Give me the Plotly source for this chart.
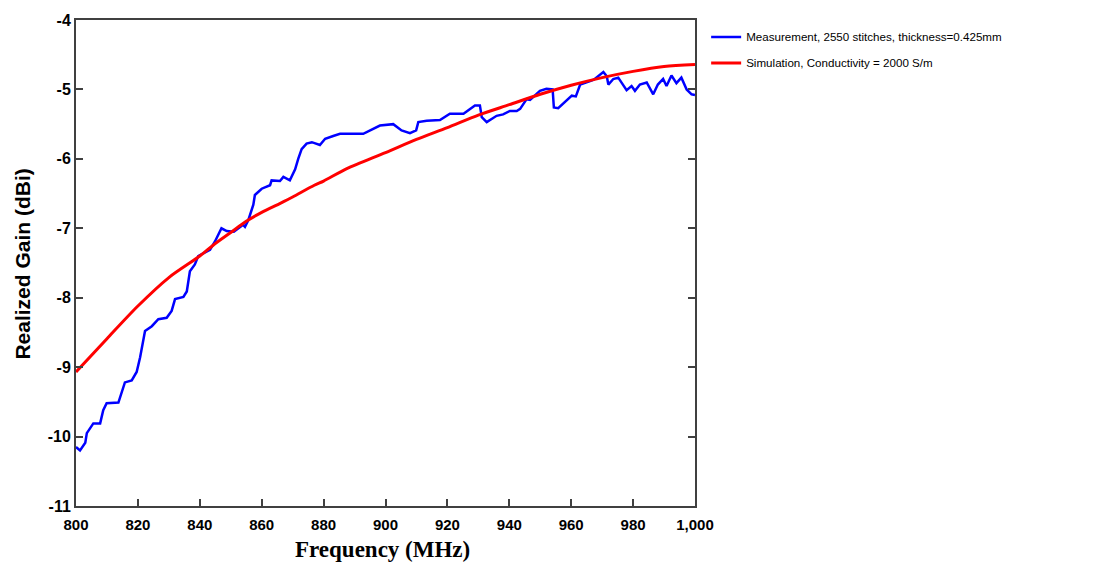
import plotly.graph_objects as go

# Measured realized gain (blue trace)
meas_freq = [800.0, 801.3, 803.0, 803.5, 805.6, 807.8, 808.8, 809.9, 813.7, 814.8,
             815.8, 818.0, 819.6, 820.7, 822.3, 824.5, 826.6, 829.3, 830.9, 832.0,
             834.7, 835.8, 836.8, 838.4, 839.5, 841.1, 843.3, 844.9, 847.0, 848.7,
             851.0, 854.0, 854.6, 855.7, 857.3, 857.8, 860.0, 862.7, 863.2, 865.9,
             867.0, 869.1, 870.8, 871.8, 872.9, 874.5, 876.2, 878.8, 880.5, 883.1,
             885.3, 892.8, 896.0, 898.2, 902.5, 905.2, 907.9, 909.9, 910.6, 913.3,
             917.6, 920.8, 925.2, 928.9, 930.5, 931.1, 932.7, 935.9, 938.0, 940.2,
             942.4, 943.5, 945.6, 946.7, 949.9, 952.0, 954.0, 954.4, 955.8, 960.2,
             961.5, 962.9, 966.1, 967.3, 970.4, 971.5, 972.0, 973.6, 975.2, 977.9,
             979.5, 980.6, 982.2, 984.4, 986.5, 988.0, 989.7, 990.8, 992.4, 994.0,
             995.6, 997.3, 998.9, 1000.0]
meas_gain = [-10.15, -10.20, -10.09, -9.95, -9.81, -9.81, -9.62, -9.52, -9.51, -9.34,
             -9.22, -9.19, -9.07, -8.86, -8.48, -8.41, -8.31, -8.29, -8.19, -8.02,
             -7.99, -7.91, -7.62, -7.52, -7.40, -7.36, -7.31, -7.19, -7.00, -7.04,
             -7.05, -6.95, -6.98, -6.88, -6.66, -6.52, -6.43, -6.38, -6.31, -6.32,
             -6.26, -6.31, -6.15, -6.00, -5.86, -5.78, -5.76, -5.80, -5.71, -5.67,
             -5.64, -5.64, -5.57, -5.52, -5.50, -5.59, -5.63, -5.59, -5.47, -5.45,
             -5.44, -5.35, -5.35, -5.23, -5.23, -5.40, -5.47, -5.38, -5.36, -5.31,
             -5.31, -5.28, -5.14, -5.15, -5.02, -4.99, -5.00, -5.26, -5.27, -5.09,
             -5.10, -4.93, -4.88, -4.86, -4.75, -4.81, -4.93, -4.85, -4.83, -5.01,
             -4.95, -5.02, -4.93, -4.90, -5.07, -4.93, -4.85, -4.95, -4.80, -4.91,
             -4.83, -5.00, -5.07, -5.08]

# Simulated realized gain (red trace)
sim_freq = [800, 810, 820, 830, 840, 844.4, 850, 855, 860, 866, 870, 877, 880,
            887.5, 900, 910, 920, 930, 940, 950, 960, 970, 980, 990, 1000]
sim_gain = [-9.07, -8.59, -8.12, -7.71, -7.40, -7.24, -7.06, -6.90, -6.77,
            -6.64, -6.55, -6.38, -6.32, -6.14, -5.91, -5.72, -5.55, -5.37, -5.22,
            -5.07, -4.94, -4.83, -4.74, -4.67, -4.64]

x_ticks = [800, 820, 840, 860, 880, 900, 920, 940, 960, 980, 1000]
x_tick_text = ["800", "820", "840", "860", "880", "900", "920", "940", "960", "980", "1,000"]
y_ticks = [-11, -10, -9, -8, -7, -6, -5, -4]
y_tick_text = ["-11", "-10", "-9", "-8", "-7", "-6", "-5", "-4"]

fig = go.Figure()
fig.add_trace(go.Scatter(
    x=meas_freq, y=meas_gain, mode="lines",
    name="Measurement, 2550 stitches, thickness=0.425mm",
    line=dict(color="#0000FF", width=2.5), legendgroup="m"))
fig.add_trace(go.Scatter(
    x=sim_freq, y=sim_gain, mode="lines",
    name="Simulation, Conductivity = 2000 S/m",
    line=dict(color="#FF0000", width=3, shape="spline", smoothing=0.8), legendgroup="s"))

axis_common = dict(showgrid=False, zeroline=False, showline=True, linecolor="#404040",
                   linewidth=2, ticks="inside", ticklen=7, tickwidth=1.5,
                   tickcolor="#404040")

fig.update_xaxes(range=[800, 1000], tickvals=x_ticks, ticktext=x_tick_text, mirror=True,
                 tickfont=dict(family="Liberation Sans, Arial", size=15,
                               color="black", weight="bold"),
                 ticklabelstandoff=4, **axis_common)
fig.update_yaxes(range=[-11, -4], tickvals=y_ticks, ticktext=y_tick_text, mirror="ticks",
                 tickfont=dict(family="Liberation Sans, Arial", size=16,
                               color="black", weight="bold"),
                 **axis_common)

# Axis titles
fig.add_annotation(text="<b>Frequency (MHz)</b>", xref="paper", yref="paper",
                   x=0.495, y=-0.09, xanchor="center", yanchor="middle", showarrow=False,
                   font=dict(family="Liberation Serif, Times New Roman", size=23,
                             color="black"))
fig.add_annotation(text="<b>Realized Gain (dBi)</b>", xref="paper", yref="paper",
                   x=-0.087, y=0.497, xanchor="center", yanchor="middle", showarrow=False,
                   textangle=-90,
                   font=dict(family="Liberation Sans, Arial", size=21, color="black"))

fig.update_layout(
    width=1097, height=562,
    margin=dict(l=76, r=402, t=17, b=56),
    paper_bgcolor="white", plot_bgcolor="white",
    legend=dict(x=1.018, y=0.995, xanchor="left", yanchor="top",
                font=dict(family="Liberation Sans, Arial", size=11.6, color="black"),
                traceorder="grouped", tracegroupgap=7, bgcolor="rgba(0,0,0,0)"),
)

fig.write_html("out.html")
